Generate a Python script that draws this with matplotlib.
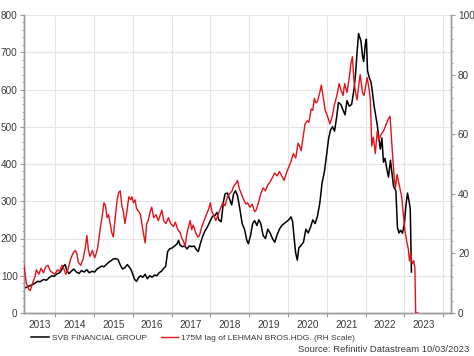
import matplotlib
matplotlib.use("Agg")
import matplotlib.pyplot as plt
from matplotlib.lines import Line2D
from matplotlib.ticker import MultipleLocator, FixedLocator, NullFormatter

plt.rcParams['font.family'] = ['Liberation Sans', 'DejaVu Sans']

# ---- data (decimal years) ----
svb_t = [2013.18, 2013.25, 2013.32, 2013.40, 2013.48, 2013.55, 2013.62, 2013.70, 2013.78, 2013.85,
         2013.92, 2013.97, 2014.05, 2014.12, 2014.18, 2014.22, 2014.26, 2014.30, 2014.36, 2014.42,
         2014.48, 2014.55, 2014.62, 2014.68, 2014.75, 2014.82, 2014.88, 2014.95, 2015.02, 2015.08,
         2015.14, 2015.20, 2015.26, 2015.32, 2015.38, 2015.44, 2015.50, 2015.56, 2015.62, 2015.66,
         2015.70, 2015.74, 2015.80, 2015.86, 2015.90, 2015.95, 2016.00, 2016.05, 2016.10, 2016.15,
         2016.20, 2016.26, 2016.32, 2016.38, 2016.44, 2016.50, 2016.56, 2016.62, 2016.68, 2016.74,
         2016.80, 2016.85, 2016.90, 2016.95, 2017.02, 2017.08, 2017.14, 2017.18, 2017.22, 2017.28,
         2017.34, 2017.40, 2017.46, 2017.52, 2017.58, 2017.64, 2017.69, 2017.74, 2017.80, 2017.86,
         2017.92, 2018.00, 2018.06, 2018.12, 2018.17, 2018.22, 2018.28, 2018.34, 2018.38, 2018.44,
         2018.50, 2018.55, 2018.60, 2018.65, 2018.70, 2018.76, 2018.82, 2018.88, 2018.94, 2018.98,
         2019.04, 2019.09, 2019.14, 2019.20, 2019.25, 2019.30, 2019.36, 2019.42, 2019.48, 2019.54,
         2019.60, 2019.66, 2019.72, 2019.78, 2019.84, 2019.90, 2019.96, 2020.02, 2020.08, 2020.12,
         2020.16, 2020.20, 2020.24, 2020.28, 2020.34, 2020.40, 2020.46, 2020.52, 2020.58, 2020.64,
         2020.70, 2020.76, 2020.82, 2020.88, 2020.94, 2021.00, 2021.05, 2021.10, 2021.15, 2021.20,
         2021.26, 2021.30, 2021.36, 2021.42, 2021.47, 2021.52, 2021.58, 2021.64, 2021.70, 2021.74,
         2021.78, 2021.82, 2021.85, 2021.88, 2021.92, 2021.95, 2021.99, 2022.02, 2022.05, 2022.10,
         2022.14, 2022.18, 2022.22, 2022.26, 2022.30, 2022.34, 2022.38, 2022.42, 2022.46, 2022.50,
         2022.55, 2022.59, 2022.64, 2022.68, 2022.72, 2022.78, 2022.82, 2022.86, 2022.90, 2022.95,
         2023.00, 2023.04, 2023.08, 2023.12, 2023.15, 2023.18]
svb_v = [70, 68, 72, 75, 80, 85, 84, 90, 88, 95,
         100, 98, 105, 108, 118, 126, 130, 115, 106, 112,
         118, 110, 106, 114, 110, 116, 108, 112, 110, 118,
         122, 126, 124, 130, 136, 140, 145, 146, 144, 134,
         125, 118, 122, 130, 125, 118, 105, 90, 85, 95,
         100, 96, 104, 92, 100, 96, 102, 100, 108, 112,
         120, 125, 165, 172, 175, 180, 185, 195, 182, 178,
         180, 172, 180, 178, 180, 170, 165, 185, 205, 220,
         230, 248, 260, 262, 270, 250, 245, 300, 320, 322,
         305, 290, 320, 328, 315, 280, 240, 225, 195, 186,
         210, 240, 248, 235, 250, 240, 208, 200, 225, 215,
         200, 190, 210, 225, 235, 240, 245, 250, 258, 245,
         200, 160, 142, 175, 182, 190, 225, 215, 230, 250,
         240, 260, 295, 350, 380, 430, 470, 492, 500, 488,
         530, 565, 560, 545, 532, 570, 555, 560, 600, 640,
         700, 750, 740, 730, 690, 675, 720, 735, 650, 630,
         620, 590, 555, 530, 505, 470, 440, 470, 405, 415,
         385, 365, 410, 375, 340, 328, 230, 215, 222, 214,
         240, 290, 322, 300, 280, 110]

leh_t = [2013.18, 2013.22, 2013.26, 2013.32, 2013.36, 2013.42, 2013.48, 2013.52, 2013.58, 2013.64,
         2013.70, 2013.76, 2013.82, 2013.88, 2013.94, 2014.00, 2014.06, 2014.12, 2014.18, 2014.22,
         2014.28, 2014.34, 2014.40, 2014.46, 2014.52, 2014.56, 2014.60, 2014.66, 2014.72, 2014.78,
         2014.82, 2014.86, 2014.90, 2014.96, 2015.02, 2015.06, 2015.10, 2015.16, 2015.22, 2015.26,
         2015.30, 2015.34, 2015.38, 2015.42, 2015.46, 2015.50, 2015.55, 2015.60, 2015.64, 2015.68,
         2015.72, 2015.76, 2015.80, 2015.85, 2015.90, 2015.95, 2015.98, 2016.02, 2016.06, 2016.10,
         2016.16, 2016.20, 2016.26, 2016.32, 2016.36, 2016.40, 2016.45, 2016.49, 2016.54, 2016.60,
         2016.66, 2016.71, 2016.75, 2016.80, 2016.86, 2016.92, 2016.98, 2017.05, 2017.10, 2017.16,
         2017.22, 2017.27, 2017.31, 2017.35, 2017.40, 2017.44, 2017.48, 2017.52, 2017.56, 2017.62,
         2017.68, 2017.72, 2017.78, 2017.84, 2017.90, 2017.96, 2018.00, 2018.04, 2018.08, 2018.14,
         2018.20, 2018.26, 2018.32, 2018.38, 2018.44, 2018.50, 2018.56, 2018.60, 2018.66, 2018.70,
         2018.74, 2018.80, 2018.86, 2018.92, 2018.96, 2019.02, 2019.08, 2019.14, 2019.18, 2019.24,
         2019.30, 2019.36, 2019.42, 2019.48, 2019.54, 2019.60, 2019.66, 2019.72, 2019.78, 2019.84,
         2019.90, 2019.96, 2020.02, 2020.08, 2020.14, 2020.20, 2020.26, 2020.30, 2020.34, 2020.40,
         2020.44, 2020.50, 2020.54, 2020.60, 2020.64, 2020.68, 2020.72, 2020.76, 2020.82, 2020.86,
         2020.90, 2020.96, 2021.02, 2021.08, 2021.14, 2021.20, 2021.26, 2021.32, 2021.36, 2021.42,
         2021.46, 2021.52, 2021.58, 2021.62, 2021.66, 2021.70, 2021.74, 2021.78, 2021.82, 2021.86,
         2021.92, 2021.96, 2022.00, 2022.04, 2022.08, 2022.12, 2022.16, 2022.20, 2022.25, 2022.30,
         2022.34, 2022.40, 2022.46, 2022.52, 2022.58, 2022.63, 2022.66, 2022.70, 2022.74, 2022.77,
         2022.81, 2022.85, 2022.93, 2022.98, 2023.02, 2023.06, 2023.10, 2023.13, 2023.16, 2023.20,
         2023.24, 2023.27, 2023.29, 2023.35]
leh_v = [17, 14, 10, 8, 7.5, 10, 12, 14.5, 13, 15,
         13.5, 15.5, 16, 14, 13.5, 13, 14.5, 14, 16, 15,
         13, 15, 18, 20, 21, 20, 17, 16, 18, 22,
         26, 21, 19, 21, 18.5, 20, 22, 28, 33, 37,
         36, 32, 33, 30, 27, 25.5, 32, 38, 40.5, 41,
         36, 34, 30, 34, 39, 38, 39, 37, 38, 35,
         34, 33, 28, 23.5, 30, 31, 34, 35.5, 32, 33,
         31, 33, 34.5, 31, 30, 32, 30, 29, 30.5, 28,
         27, 25, 24, 22.3, 27, 29, 31, 28, 29.5, 27,
         25.5, 26, 29, 31, 33, 35, 37, 34, 33, 31,
         33, 35, 37, 36, 39, 40, 41, 42.5, 43.5, 44.5,
         42, 40, 38, 36.5, 37, 35.5, 36.5, 34, 34.5, 37,
         40, 42, 41, 43, 44, 45.5, 47, 46, 47.5, 46,
         44.5, 47, 49, 51, 53.5, 52, 57, 56, 54.5, 60,
         63.5, 64.5, 64, 68.5, 68, 72, 70.5, 71, 74, 76.5,
         73, 68, 66, 63.5, 66, 70, 73, 77, 75, 73,
         77, 74, 79, 83.5, 86, 78, 74, 71.5, 76, 80,
         74, 73, 76, 79, 76, 72, 56, 59, 53.5, 61,
         58, 60, 61, 63, 65, 66, 60, 52, 45, 42,
         46.5, 44, 39, 32, 27, 24, 21.5, 17.5, 20, 16.5,
         17.5, 15, 0, 0]

left_ticks = [0, 100, 200, 300, 400, 500, 600, 700, 800]
right_ticks = [0, 20, 40, 60, 80, 100]
year_labels = ['2013', '2014', '2015', '2016', '2017', '2018', '2019', '2020', '2021', '2022', '2023']

BLACK = '#000000'
RED = '#e3121b'
GRID = '#e4e4e4'
SPINE = '#9a9a9a'
TXT = '#3a3a3a'

fig = plt.figure(figsize=(4.74, 3.56), dpi=100)
ax = fig.add_axes([24/474, 43/356, 427/474, 298/356])
ax2 = ax.twinx()

xmin, xmax = 2013.2, 2024.2
ax.set_xlim(xmin, xmax)
ax.set_ylim(0, 800)
ax2.set_ylim(0, 100)

ax.plot(svb_t, svb_v, color=BLACK, lw=1.1, zorder=3)
ax2.plot(leh_t, leh_v, color=RED, lw=1.0, zorder=3)

# x axis: boundaries at year starts, labels in the middle of each visible year
bounds = list(range(2014, 2025))
ax.xaxis.set_major_locator(FixedLocator(bounds))
ax.xaxis.set_major_formatter(NullFormatter())
centers = []
for i, lab in enumerate(year_labels):
    y0 = max(int(lab), xmin)
    y1 = min(int(lab) + 1, xmax)
    centers.append((y0 + y1) / 2)
ax.xaxis.set_minor_locator(FixedLocator(centers))
ax.set_xticklabels(year_labels, minor=True)
ax.tick_params(axis='x', which='major', length=3, width=0.8, color=SPINE, direction='out')
ax.tick_params(axis='x', which='minor', length=0, pad=5, labelsize=7.2, labelcolor=TXT)

ax.set_yticks(left_ticks)
ax.yaxis.set_minor_locator(MultipleLocator(20))
ax.tick_params(axis='y', which='major', length=3, width=0.8, color=SPINE, labelsize=7.2, labelcolor=TXT, pad=1.5)
ax.tick_params(axis='y', which='minor', length=1.5, width=0.6, color=SPINE)

ax2.set_yticks(right_ticks)
ax2.yaxis.set_minor_locator(MultipleLocator(4))
ax2.tick_params(axis='y', which='major', length=3, width=0.8, color=SPINE, labelsize=7.2, labelcolor=TXT, pad=2)
ax2.tick_params(axis='y', which='minor', length=1.5, width=0.6, color=SPINE)

ax.grid(True, which='major', color=GRID, lw=0.8)
ax.set_axisbelow(True)

for a in (ax, ax2):
    for s in ('left', 'right', 'bottom'):
        a.spines[s].set_color(SPINE)
        a.spines[s].set_linewidth(1.0)
    a.spines['top'].set_visible(False)

handles = [Line2D([], [], color=BLACK, lw=1.1), Line2D([], [], color=RED, lw=1.0)]
labels = ['SVB FINANCIAL GROUP', '175M lag of LEHMAN BROS.HDG. (RH Scale)']
fig.legend(handles, labels, loc='center left', bbox_to_anchor=(27/474, 18/356), ncol=2,
           frameon=False, fontsize=6, borderpad=0, handlelength=2.1, handletextpad=0.35,
           columnspacing=1.7, labelcolor=TXT)

fig.text(469/474, 6/356, 'Source: Refinitiv Datastream 10/03/2023', ha='right', va='center',
         fontsize=6.8, color=TXT)

fig.savefig('out.png', dpi=100)
